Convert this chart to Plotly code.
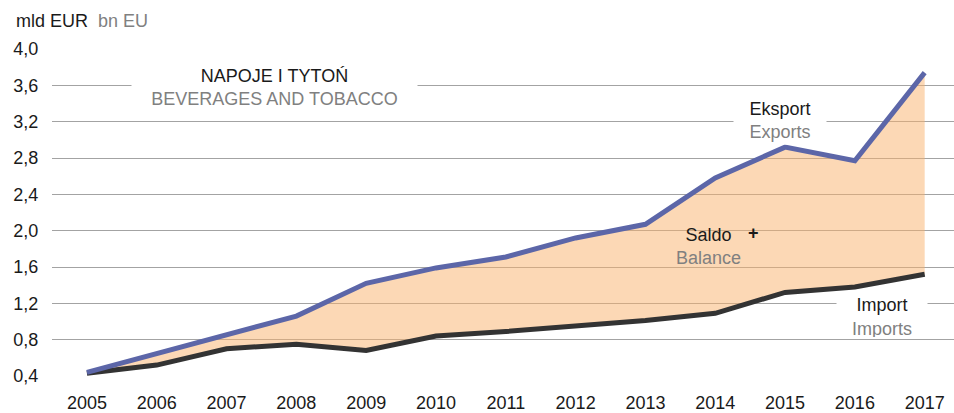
import plotly.graph_objects as go

# Annual trade in beverages and tobacco, bn EUR
years = [2005, 2006, 2007, 2008, 2009, 2010, 2011, 2012, 2013, 2014, 2015, 2016, 2017]
exports = [0.44, 0.65, 0.86, 1.06, 1.42, 1.59, 1.71, 1.92, 2.07, 2.58, 2.92, 2.77, 3.74]
imports = [0.43, 0.52, 0.70, 0.75, 0.68, 0.84, 0.89, 0.95, 1.01, 1.09, 1.32, 1.38, 1.52]
y_ticks = [0.4, 0.8, 1.2, 1.6, 2.0, 2.4, 2.8, 3.2, 3.6, 4.0]

FONT = "Liberation Sans, Arial, Helvetica, sans-serif"
DARK = "#1a1a1a"
GREY = "#808080"
EXPORT_COLOR = "#5c66a8"
IMPORT_COLOR = "#333333"
FILL = "rgba(249,178,108,0.5)"

fig = go.Figure()

# Balance area between the two series
fig.add_trace(go.Scatter(x=years, y=imports, mode="lines",
                         line=dict(width=0), hoverinfo="skip", showlegend=False))
fig.add_trace(go.Scatter(x=years, y=exports, mode="lines", fill="tonexty",
                         fillcolor=FILL, line=dict(width=0),
                         hoverinfo="skip", showlegend=False))

# Export and import lines
fig.add_trace(go.Scatter(x=years, y=imports, mode="lines", name="Import",
                         line=dict(color=IMPORT_COLOR, width=5), showlegend=False))
fig.add_trace(go.Scatter(x=years, y=exports, mode="lines", name="Eksport",
                         line=dict(color=EXPORT_COLOR, width=5), showlegend=False))


def two_line(top, bottom):
    return (f"<span style='color:{DARK}'>{top}</span><br>"
            f"<span style='color:{GREY}'>{bottom}</span>")


annotations = [
    dict(x=2007.68, y=3.58, text=two_line("NAPOJE I TYTOŃ", "BEVERAGES AND TOBACCO"),
         width=281, bgcolor="white", borderpad=2),
    dict(x=2014.925, y=3.216, text=two_line("Eksport", "Exports"),
         width=88, bgcolor="white", borderpad=2),
    dict(x=2016.386, y=1.05, text=two_line("Import", "Imports"),
         width=88, height=40, bgcolor="white", borderpad=1),
    dict(x=2013.909, y=1.826, text=two_line("Saldo", "Balance")),
    dict(x=2014.553, y=1.97, text="<b>+</b>", font=dict(size=18, color=DARK)),
    dict(x=-0.042, y=1.086, xref="paper", yref="paper", xanchor="left",
         text=f"<span style='color:{DARK}'>mld EUR</span>"
              f"<span style='color:{GREY}'>  bn EU</span>"),
]
for a in annotations:
    a.setdefault("xref", "x")
    a.setdefault("yref", "y")
    a.setdefault("xanchor", "center")
    a.setdefault("yanchor", "middle")
    a.setdefault("showarrow", False)
    a.setdefault("font", dict(size=18, family=FONT))
    a.setdefault("align", "center")

fig.update_layout(
    width=954, height=413,
    margin=dict(l=52, r=0, t=49, b=35),
    paper_bgcolor="white", plot_bgcolor="white",
    separators=", ",
    font=dict(family=FONT, size=18, color=DARK),
    annotations=annotations,
    xaxis=dict(range=[2004.5, 2017.42], tickmode="array", tickvals=years,
               ticktext=[str(y) for y in years], showgrid=False, zeroline=False,
               showline=False, ticks="outside", ticklen=10,
               tickcolor="rgba(0,0,0,0)", tickfont=dict(size=18, color=DARK)),
    yaxis=dict(range=[0.4, 4.0], tickmode="array", tickvals=y_ticks,
               tickformat=".1f", showgrid=True, gridcolor="#a3a3a3", gridwidth=1,
               zeroline=False, showline=False, ticks="outside", ticklen=9,
               tickcolor="rgba(0,0,0,0)", tickfont=dict(size=18, color=DARK)),
)

fig.write_html("out.html")
